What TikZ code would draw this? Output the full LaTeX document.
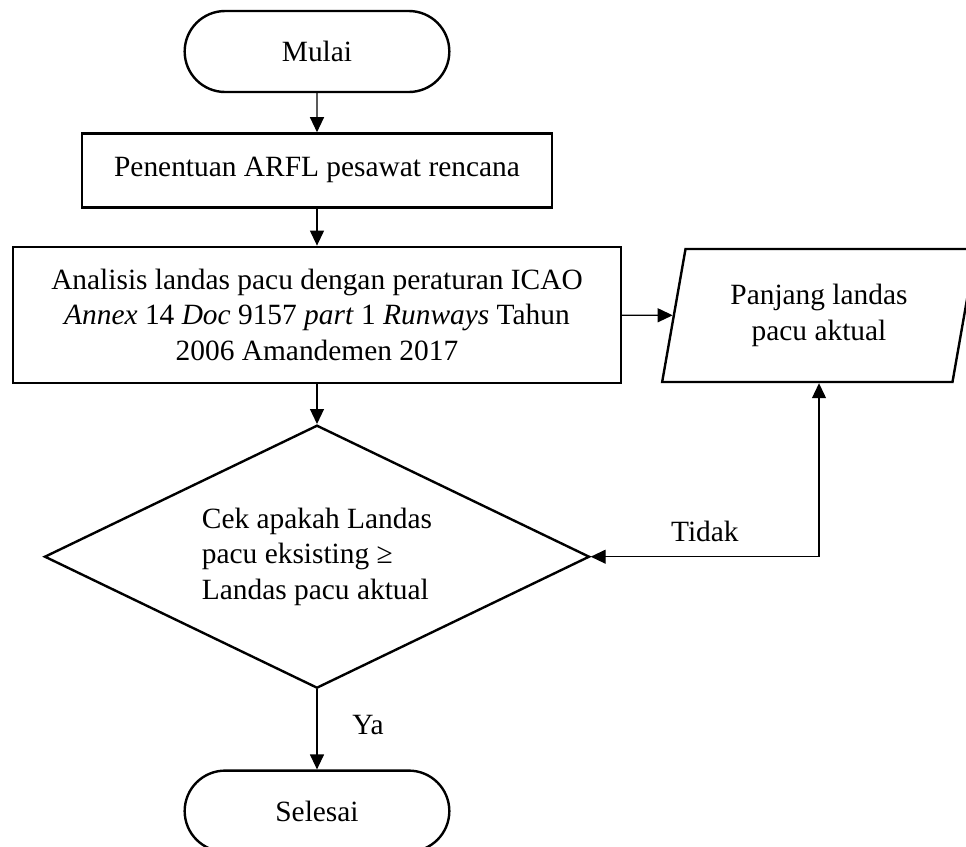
\documentclass[tikz,border=0pt]{standalone}
\usepackage{fontspec}
\setmainfont{Liberation Serif}
\usetikzlibrary{arrows.meta,positioning,shapes.geometric,shapes.misc}

\begin{document}
\begin{tikzpicture}[x=0.5pt,y=-0.5pt,>={Triangle[length=7.5pt,width=7pt]},font=\fontsize{14.7pt}{17.75pt}\selectfont,term/.style={draw,rounded rectangle,line width=1.2pt,minimum width=139pt,minimum height=40.5pt},block/.style={draw,line width=1.2pt,align=center,inner sep=0pt},io/.style={draw,trapezium,trapezium left angle=76,trapezium right angle=104,trapezium stretches=true,line width=1.2pt,align=center,minimum width=157pt,minimum height=66.5pt,inner sep=0pt},decision/.style={draw,diamond,aspect=2.07,line width=1.2pt,align=left,minimum width=272.5pt,minimum height=131.5pt,inner sep=0pt},flow/.style={->,line width=0.6pt}]
  \clip (0,0) rectangle (966,847);
  \node[term] (mulai) at (317,51.5) {Mulai};
  \node[block,minimum width=235pt,minimum height=37pt,below=19.5pt of mulai] (tentu) {Penentuan ARFL pesawat rencana};
  \node[block,minimum width=304pt,minimum height=68pt,below=18.5pt of tentu] (analisis) {Analisis landas pacu dengan peraturan ICAO\\\textit{Annex} 14 \textit{Doc} 9157 \textit{part} 1 \textit{Runways} Tahun\\2006 Amandemen 2017};
  \node[io] (panjang) at (819,315.5) {Panjang landas\\pacu aktual};
  \node[decision,below=20pt of analisis] (cek) {Cek apakah Landas\\pacu eksisting ≥\\Landas pacu aktual};
  \node[term,below=40pt of cek] (selesai) {Selesai};
  \coordinate (sudut) at (panjang.south |- cek.east);
  \draw[flow] (mulai) -- (tentu);
  \draw[flow] (tentu) -- (analisis);
  \draw[flow] (analisis) -- (panjang);
  \draw[flow] (analisis) -- (cek);
  \draw[flow] (sudut) -- (panjang.south);
  \draw[flow] (sudut) -- node[midway,above=4pt]{Tidak} (cek.east);
  \draw[flow] (cek.south) -- node[pos=0.45,right=14pt]{Ya} (selesai.north);
\end{tikzpicture}
\end{document}
